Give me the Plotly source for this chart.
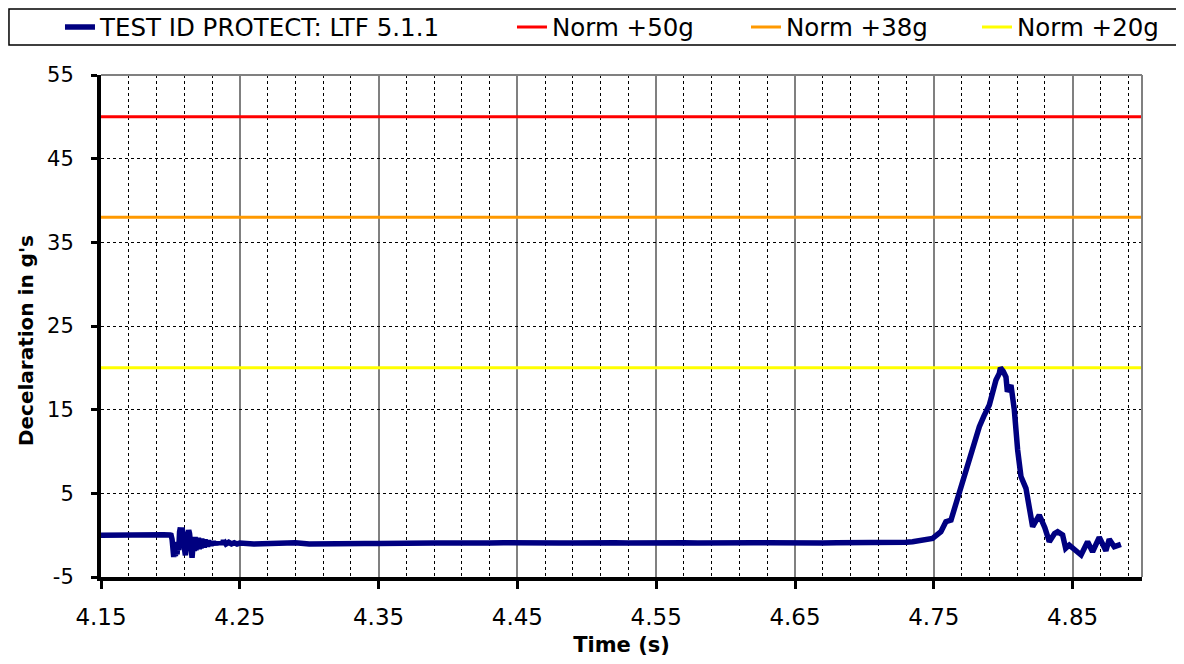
import plotly.graph_objects as go

# ---------------- data ----------------
time_s = [
    4.150, 4.155, 4.160, 4.165, 4.170, 4.175, 4.180, 4.185, 4.190, 4.195, 4.200,
    4.2005, 4.2012, 4.2018, 4.2024, 4.2030, 4.2036, 4.2042, 4.2048, 4.2054, 4.2060,
    4.2066, 4.2072, 4.2078, 4.2084, 4.2090, 4.2096, 4.2102, 4.2108, 4.2114, 4.2120,
    4.2126, 4.2132, 4.2138, 4.2144, 4.2150, 4.2156, 4.2162,
    4.2166, 4.2172, 4.2178, 4.2184, 4.2190, 4.2196, 4.2202, 4.2208, 4.2214, 4.2220,
    4.2226, 4.2232, 4.2238, 4.2244, 4.2250, 4.2256, 4.2262, 4.2268, 4.2274, 4.2280,
    4.2286, 4.2292, 4.2298, 4.2304, 4.2310, 4.2316, 4.2322, 4.2328, 4.2334, 4.2340,
    4.2346, 4.2352, 4.2358, 4.2364, 4.2370, 4.2376, 4.2382, 4.2388, 4.2394, 4.2400,
    4.2420, 4.2440, 4.2460, 4.2480, 4.2500,
    4.26, 4.27, 4.28, 4.29, 4.30, 4.31, 4.32, 4.33, 4.34, 4.35,
    4.36, 4.37, 4.38, 4.39, 4.40, 4.41, 4.42, 4.43, 4.44, 4.45,
    4.46, 4.47, 4.48, 4.49, 4.50, 4.51, 4.52, 4.53, 4.54, 4.55,
    4.56, 4.57, 4.58, 4.59, 4.60, 4.61, 4.62, 4.63, 4.64, 4.65,
    4.66, 4.67, 4.68, 4.69, 4.70, 4.71, 4.72, 4.73,
    4.7347, 4.7420, 4.7491, 4.7551, 4.7587, 4.7624, 4.7660, 4.7708, 4.7744, 4.7790,
    4.7828, 4.7860, 4.7900, 4.7948, 4.7972, 4.7980, 4.8000, 4.8020, 4.8030, 4.8056,
    4.8080, 4.8104, 4.8128, 4.8164, 4.8190, 4.8212, 4.8260, 4.8300, 4.8332, 4.8370,
    4.8392, 4.8428, 4.8450, 4.8476, 4.8520, 4.8561, 4.8608, 4.8644, 4.8692, 4.8716,
    4.8740, 4.8764, 4.8800, 4.8848,
]
decel_g = [
    0.00, 0.02, -0.03, 0.00, 0.05, 0.05, 0.08, 0.10, 0.05, 0.05, 0.02,
    0.00, -0.50, -2.00, -2.60, -1.80, -2.50, -1.20, -2.30, -0.80, -1.80,
    0.40, 0.90, -0.20, 0.90, 0.30, -1.00, -2.20, -2.40, -1.30, -0.30,
    0.30, 0.60, 0.20, -0.90, -2.00, -2.70, -1.50,
    -0.30, -1.90, -0.20, -1.80, -0.30, -1.70, -0.30, -1.70, -0.40, -1.60,
    -0.40, -1.50, -0.50, -1.50, -0.50, -1.40, -0.60, -1.40, -0.60, -1.30,
    -0.70, -1.30, -0.70, -1.20, -0.70, -1.20, -0.80, -1.20, -0.80, -1.10,
    -0.80, -1.10, -0.85, -1.10, -0.85, -1.05, -0.60, -1.00, -0.90, -1.05,
    -0.85, -1.05, -0.90, -1.05, -0.95,
    -1.05, -1.00, -1.05, -0.90, -1.05, -1.00, -0.95, -1.05, -1.00, -1.00,
    -0.95, -1.00, -1.00, -0.95, -0.95, -1.00, -0.95, -0.95, -0.90, -0.95,
    -0.95, -0.90, -0.95, -0.95, -0.90, -0.95, -0.90, -0.95, -0.90, -0.90,
    -0.95, -0.90, -0.95, -0.90, -0.90, -0.95, -0.90, -0.90, -0.95, -0.90,
    -0.90, -0.95, -0.90, -0.90, -0.95, -0.90, -0.90, -0.85,
    -0.78, -0.60, -0.38, 0.41, 1.61, 1.81, 3.80, 6.00, 8.18, 11.00,
    12.96, 14.20, 15.55, 18.54, 19.34, 20.00, 19.60, 18.90, 17.14, 17.94,
    15.00, 10.17, 7.00, 5.60, 3.00, 1.01, 2.41, 0.90, -0.78, 0.20,
    0.41, 0.02, -1.57, -1.18, -1.80, -2.37, -0.78, -1.98, -0.26, -0.97,
    -1.86, -0.50, -1.38, -1.10,
]

norm_time = [4.15, 4.90]
norm_50g = [50, 50]
norm_38g = [38, 38]
norm_20g = [20, 20]

x_tick_vals = [4.15, 4.25, 4.35, 4.45, 4.55, 4.65, 4.75, 4.85]
x_tick_text = ["4.15", "4.25", "4.35", "4.45", "4.55", "4.65", "4.75", "4.85"]
y_tick_vals = [-5, 5, 15, 25, 35, 45, 55]
y_tick_text = ["-5", "5", "15", "25", "35", "45", "55"]

series_names = ["TEST ID PROTECT: LTF 5.1.1", "Norm +50g", "Norm +38g", "Norm +20g"]
x_title = "Time (s)"
y_title = "Decelaration in g's"

# ---------------- figure ----------------
FONT = "DejaVu Sans"
fig = go.Figure()

fig.add_trace(go.Scatter(x=norm_time, y=norm_50g, mode="lines", name=series_names[1],
                         line=dict(color="#FF0000", width=3), legend="legend2"))
fig.add_trace(go.Scatter(x=norm_time, y=norm_38g, mode="lines", name=series_names[2],
                         line=dict(color="#FF9900", width=3), legend="legend3"))
fig.add_trace(go.Scatter(x=norm_time, y=norm_20g, mode="lines", name=series_names[3],
                         line=dict(color="#FFFF00", width=3), legend="legend4"))
fig.add_trace(go.Scatter(x=time_s, y=decel_g, mode="lines", name=series_names[0],
                         line=dict(color="#000080", width=5.5), legend="legend"))

leg_common = dict(orientation="h", xanchor="left", yanchor="middle", y=1.0956,
                  bgcolor="rgba(0,0,0,0)", borderwidth=0,
                  font=dict(family=FONT, size=24.5, color="#000000"))

fig.update_layout(
    width=1176, height=656,
    paper_bgcolor="white", plot_bgcolor="white",
    margin=dict(l=93, r=42, t=67, b=87, autoexpand=False),
    font=dict(family=FONT, color="#000000"),
    legend=dict(x=-0.0394, **leg_common),
    legend2=dict(x=0.3948, **leg_common),
    legend3=dict(x=0.6196, **leg_common),
    legend4=dict(x=0.8415, **leg_common),
    xaxis=dict(
        range=[4.15, 4.90], tickmode="array", tickvals=x_tick_vals, ticktext=x_tick_text,
        showline=True, linecolor="#000000", linewidth=4,
        ticks="outside", ticklen=8, tickwidth=3, tickcolor="#000000",
        showgrid=True, gridcolor="#808080", gridwidth=1.5,
        minor=dict(tickmode="linear", tick0=4.15, dtick=0.02, showgrid=True,
                   gridcolor="#000000", gridwidth=1, griddash="dot", ticks=""),
        zeroline=False, automargin=False,
        tickfont=dict(family=FONT, size=23, color="#000000"),
        ticklabelstandoff=8,
        title=dict(text="<b>" + x_title + "</b>",
                   font=dict(family=FONT, size=21, color="#000000"), standoff=10),
    ),
    yaxis=dict(
        range=[-5, 55], tickmode="array", tickvals=y_tick_vals, ticktext=y_tick_text,
        showline=True, linecolor="#000000", linewidth=4,
        ticks="outside", ticklen=6, tickwidth=3, tickcolor="#000000",
        showgrid=True, gridcolor="#000000", gridwidth=1, griddash="dot",
        zeroline=False, automargin=False,
        tickfont=dict(family=FONT, size=21, color="#000000"),
        ticklabelstandoff=13,
    ),
    annotations=[
        dict(text="<b>" + y_title + "</b>", textangle=-90, xref="paper", yref="paper",
             x=-0.072, y=0.470, xanchor="center", yanchor="middle", showarrow=False,
             font=dict(family=FONT, size=20, color="#000000")),
    ],
    shapes=[
        dict(type="line", xref="paper", yref="paper", x0=0, x1=1, y0=1, y1=1,
             line=dict(color="#808080", width=2), layer="above"),
        dict(type="line", xref="paper", yref="paper", x0=1, x1=1, y0=0, y1=1,
             line=dict(color="#808080", width=2), layer="above"),
        dict(type="rect", xref="paper", yref="paper", x0=-0.0884, x1=1.06,
             y0=1.0598, y1=1.1315, line=dict(color="#000000", width=1.5),
             fillcolor="rgba(0,0,0,0)", layer="above"),
    ],
    showlegend=True,
)

fig.write_html("out.html")
